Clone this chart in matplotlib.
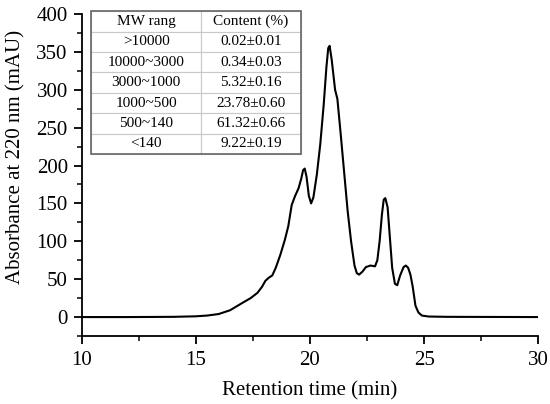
import matplotlib
matplotlib.use("Agg")
import matplotlib.pyplot as plt
from matplotlib.patches import Rectangle
from matplotlib.ticker import MultipleLocator

plt.rcParams["font.family"] = ["Liberation Serif", "DejaVu Serif"]

# chromatogram (time in min, absorbance in mAU)
time_min = [10.0, 12.0, 14.0, 15.0, 15.5, 16.0, 16.5, 17.0, 17.4, 17.7, 17.9,
            18.05, 18.2, 18.35, 18.5, 18.7, 18.9, 19.05, 19.2, 19.35, 19.5,
            19.62, 19.7, 19.77, 19.85, 19.95, 20.05, 20.15, 20.3, 20.45, 20.6,
            20.72, 20.8, 20.86, 20.95, 21.1, 21.2, 21.35, 21.5, 21.65, 21.8,
            21.95, 22.05, 22.15, 22.3, 22.45, 22.65, 22.85, 22.95, 23.05,
            23.15, 23.23, 23.3, 23.4, 23.5, 23.6, 23.72, 23.82, 23.95, 24.1,
            24.2, 24.3, 24.4, 24.5, 24.62, 24.75, 24.9, 25.2, 26.0, 30.0]
absorbance = [0, 0, 0.3, 1, 2, 4, 9, 18, 25, 32, 40,
              48, 52, 55, 65, 82, 102, 120, 148, 160, 170,
              183, 194, 196, 185, 160, 150, 158, 188, 228, 280,
              330, 355, 358, 340, 300, 288, 240, 190, 140, 100,
              68, 58, 56, 60, 66, 68, 67, 75, 100,
              135, 155, 157, 145, 105, 65, 44, 42, 55, 66,
              68, 65, 56, 40, 15, 6, 2, 0.7, 0.3, 0]

# inset table
mw_range = [">10000", "10000~3000", "3000~1000", "1000~500", "500~140", "<140"]
content = ["0.02±0.01", "0.34±0.03", "5.32±0.16", "23.78±0.60", "61.32±0.66", "9.22±0.19"]

fig = plt.figure(figsize=(5.5, 4.04), dpi=100)
ax = fig.add_axes([0.1485, 0.1683, 0.8302, 0.797])

ax.plot(time_min, absorbance, color="black", linewidth=1.5)

ax.set_xlim(10, 30)
ax.set_ylim(-25, 400)
ax.xaxis.set_major_locator(MultipleLocator(5))
ax.xaxis.set_minor_locator(MultipleLocator(2.5))
ax.yaxis.set_major_locator(MultipleLocator(50))
ax.yaxis.set_minor_locator(MultipleLocator(25))

for side in ["top", "right"]:
    ax.spines[side].set_visible(False)
for side in ["left", "bottom"]:
    ax.spines[side].set_linewidth(1.3)

ax.tick_params(which="major", direction="out", length=6, width=1.3, labelsize=15)
ax.tick_params(axis="x", which="major", pad=5)
ax.tick_params(axis="y", which="major", pad=4)
ax.tick_params(which="minor", direction="out", length=3.5, width=1.1)

ax.set_xlabel("Retention time (min)", fontsize=15)
ax.set_ylabel("Absorbance at 220 nm (mAU)", fontsize=15)
ax.xaxis.set_label_coords(0.5, -0.142)
ax.yaxis.set_label_coords(-0.123, 0.555)

cells = [[m, c] for m, c in zip(mw_range, content)]
tbl = ax.table(cellText=cells, colLabels=["MW rang", "Content (%)"],
               cellLoc="center", colWidths=[0.527, 0.473],
               bbox=[0.0204, 0.565, 0.459, 0.444])
tbl.auto_set_font_size(False)
tbl.set_fontsize(11)
for cell in tbl.get_celld().values():
    cell.set_edgecolor("#c8c8c8")
    cell.set_linewidth(0.8)
    cell.set_facecolor("white")
ax.add_patch(Rectangle((0.0204, 0.565), 0.459, 0.444, transform=ax.transAxes,
                       fill=False, edgecolor="#666666", linewidth=1.2,
                       clip_on=False, zorder=5))

fig.savefig("out.png", dpi=100)
